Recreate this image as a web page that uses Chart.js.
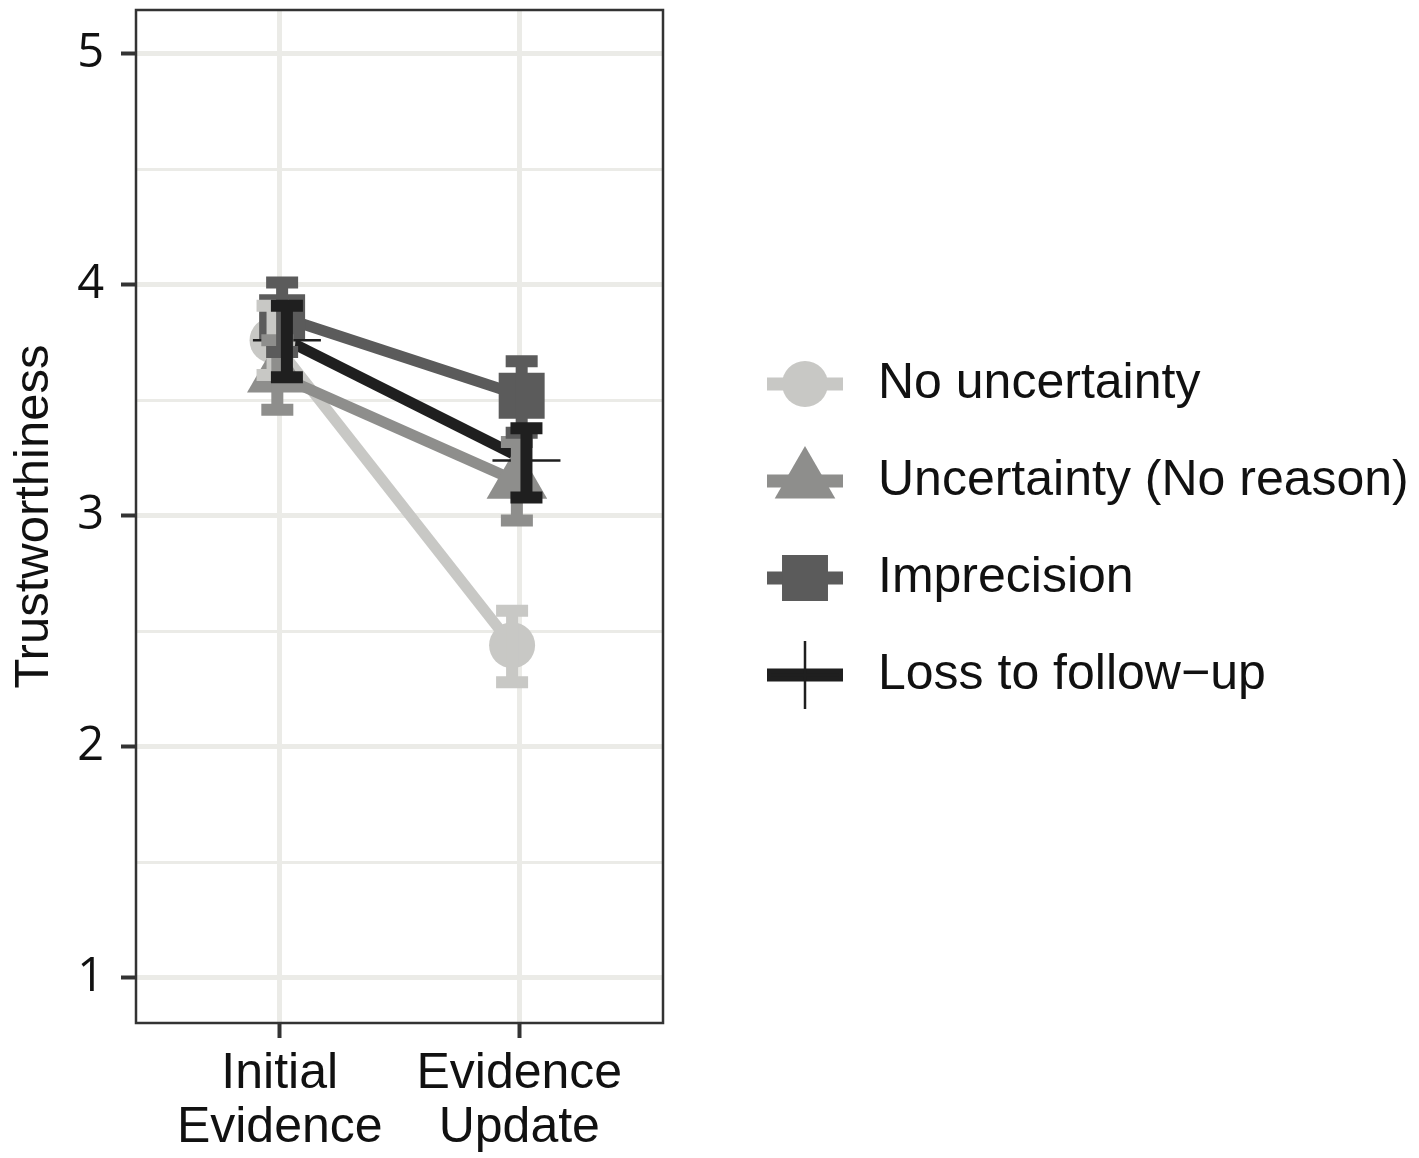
<!DOCTYPE html>
<html lang="en">
<head>
  <meta charset="UTF-8" />
  <title>Trustworthiness by evidence stage</title>
  <script src="https://cdn.jsdelivr.net/npm/chart.js"></script>
  <style>
    body {
      margin: 0;
      background: #fff;
    }
    #chart-container {
      width: 1419px;
      height: 1158px;
    }
  </style>
</head>
<body>

  <div id="chart-container">
    <canvas id="trustChart"></canvas>
  </div>

  <script>
    // categories (x positions 1 and 2 on a linear axis so the groups can be dodged)
    const stages = [['Initial', 'Evidence'], ['Evidence', 'Update']];
    const stagePositions = [1, 2];
    const seriesNames = ['No uncertainty', 'Uncertainty (No reason)', 'Imprecision', 'Loss to follow\u2212up'];

    // means and error bar ends, [Initial Evidence, Evidence Update]
    const noUncMean = [3.76, 2.44];
    const noUncLow = [3.61, 2.28];
    const noUncHigh = [3.91, 2.59];

    const noReasonMean = [3.61, 3.15];
    const noReasonLow = [3.46, 2.98];
    const noReasonHigh = [3.76, 3.32];

    const imprecisionMean = [3.86, 3.52];
    const imprecisionLow = [3.71, 3.36];
    const imprecisionHigh = [4.01, 3.67];

    const lossMean = [3.76, 3.24];
    const lossLow = [3.60, 3.08];
    const lossHigh = [3.91, 3.38];

    const yTicks = [1, 2, 3, 4, 5];
    const yMinorTicks = [1.5, 2.5, 3.5, 4.5];

    const dodge = [-0.03, -0.01, 0.01, 0.03];

    const series = [
      { name: seriesNames[0], mean: noUncMean, low: noUncLow, high: noUncHigh, color: '#c8c8c5', style: 'circle', radius: 23 },
      { name: seriesNames[1], mean: noReasonMean, low: noReasonLow, high: noReasonHigh, color: '#8e8e8c', style: 'triangle', radius: 35 },
      { name: seriesNames[2], mean: imprecisionMean, low: imprecisionLow, high: imprecisionHigh, color: '#5b5b5b', style: 'rect', radius: 32.5 },
      { name: seriesNames[3], mean: lossMean, low: lossLow, high: lossHigh, color: '#1f1f1f', style: 'cross', radius: 34 }
    ];

    // lines first (all groups), then points (all groups); lower order is drawn on top
    const datasets = [];
    series.forEach((s, i) => {
      const pts = stagePositions.map((x, j) => ({ x: x + dodge[i], y: s.mean[j] }));
      datasets.push({
        label: s.name + ' line',
        data: pts,
        borderColor: s.color,
        borderWidth: 11,
        pointRadius: 0,
        fill: false,
        order: 20 - i
      });
      datasets.push({
        label: s.name,
        data: pts,
        showLine: false,
        pointStyle: s.style,
        pointRadius: s.radius,
        pointHoverRadius: s.radius,
        pointBackgroundColor: s.color,
        pointBorderColor: s.color,
        pointBorderWidth: s.style === 'cross' ? 2.5 : 0,
        order: 10 - i
      });
    });

    const errorBars = {
      id: 'errorBars',
      afterDatasetsDraw(chart) {
        const { ctx, chartArea, scales: { x, y } } = chart;
        ctx.save();
        ctx.beginPath();
        ctx.rect(chartArea.left, chartArea.top, chartArea.width, chartArea.height);
        ctx.clip();
        ctx.lineWidth = 12;
        ctx.lineCap = 'butt';
        series.forEach((s, i) => {
          ctx.strokeStyle = s.color;
          stagePositions.forEach((pos, j) => {
            const px = x.getPixelForValue(pos + dodge[i]);
            const top = y.getPixelForValue(s.high[j]);
            const bot = y.getPixelForValue(s.low[j]);
            ctx.beginPath();
            ctx.moveTo(px, top);
            ctx.lineTo(px, bot);
            ctx.moveTo(px - 16, top);
            ctx.lineTo(px + 16, top);
            ctx.moveTo(px - 16, bot);
            ctx.lineTo(px + 16, bot);
            ctx.stroke();
          });
        });
        ctx.restore();
      }
    };

    const panelAndLegend = {
      id: 'panelAndLegend',
      afterDraw(chart) {
        const { ctx, chartArea } = chart;
        ctx.save();
        ctx.strokeStyle = '#333';
        ctx.lineWidth = 2.5;
        ctx.strokeRect(chartArea.left, chartArea.top, chartArea.width, chartArea.height);

        // legend keys: errorbar/line stroke with the group's marker on it
        const keyLeft = 767, keyRight = 843, keyMid = 805, textX = 878;
        const firstY = 384, stepY = 97;
        series.forEach((s, i) => {
          const cy = firstY + i * stepY;
          ctx.strokeStyle = s.color;
          ctx.fillStyle = s.color;
          ctx.lineWidth = 13;
          ctx.beginPath();
          ctx.moveTo(keyLeft, cy);
          ctx.lineTo(keyRight, cy);
          ctx.stroke();
          ctx.lineWidth = s.style === 'cross' ? 2.5 : 0;
          Chart.helpers.drawPoint(ctx, {
            pointStyle: s.style,
            radius: s.radius,
            rotation: 0,
            borderWidth: s.style === 'cross' ? 2.5 : 0
          }, keyMid, cy);

          ctx.fillStyle = '#111';
          ctx.font = '50px "Liberation Sans", Arial, sans-serif';
          ctx.textAlign = 'left';
          ctx.textBaseline = 'middle';
          ctx.fillText(s.name, textX, cy);
        });
        ctx.restore();
      }
    };

    const ctx = document.getElementById('trustChart').getContext('2d');
    const chart = new Chart(ctx, {
      type: 'line',
      data: { datasets: datasets },
      plugins: [errorBars, panelAndLegend],
      options: {
        responsive: true,
        maintainAspectRatio: false,
        animation: false,
        layout: { autoPadding: false, padding: { top: 10, right: 756, left: 0, bottom: 0 } },
        plugins: {
          legend: { display: false },
          tooltip: { enabled: false }
        },
        scales: {
          x: {
            type: 'linear',
            min: 0.4,
            max: 2.6,
            afterBuildTicks: (scale) => {
              scale.ticks = stagePositions.map(v => ({ value: v }));
            },
            afterFit: (scale) => {
              scale.height = 135;
              scale.paddingLeft = 0;
              scale.paddingRight = 0;
            },
            ticks: {
              callback: (v) => stages[stagePositions.indexOf(v)],
              font: { family: '"Liberation Sans", Arial, sans-serif', size: 50, lineHeight: 1.08 },
              color: '#111',
              padding: 9,
              maxRotation: 0,
              autoSkip: false
            },
            grid: {
              color: '#ebebe7',
              lineWidth: 5,
              tickLength: 15,
              tickWidth: 4,
              tickColor: '#333'
            },
            border: { display: false }
          },
          y: {
            type: 'linear',
            min: 0.805,
            max: 5.19,
            afterBuildTicks: (scale) => {
              scale.ticks = yTicks.concat(yMinorTicks).sort((a, b) => a - b).map(v => ({ value: v }));
            },
            afterFit: (scale) => {
              scale.width = 136;
              scale.paddingTop = 0;
              scale.paddingBottom = 0;
            },
            ticks: {
              callback: (v) => yTicks.includes(v) ? String(v) : '',
              font: { family: '"Open Sans", sans-serif', size: 47 },
              color: '#111',
              padding: 17,
              autoSkip: false
            },
            grid: {
              color: '#ebebe7',
              lineWidth: (c) => yTicks.includes(c.tick.value) ? 5 : 3,
              tickLength: 15,
              tickWidth: 4,
              tickColor: (c) => yTicks.includes(c.tick.value) ? '#333' : 'rgba(0,0,0,0)'
            },
            border: { display: false },
            title: {
              display: true,
              text: 'Trustworthiness',
              font: { family: '"Liberation Sans", Arial, sans-serif', size: 49, lineHeight: 1 },
              color: '#111',
              padding: { top: 10, bottom: 0 }
            }
          }
        }
      }
    });
  </script>

</body>
</html>
